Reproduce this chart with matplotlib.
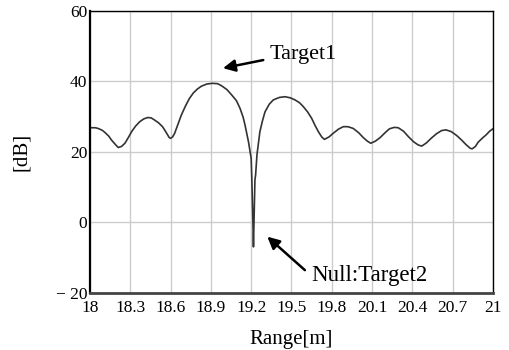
import numpy as np
import matplotlib.pyplot as plt

# values
range_m = [18.0, 18.01, 18.04, 18.06, 18.09, 18.11, 18.14, 18.16, 18.19, 18.21,
           18.235, 18.26, 18.285, 18.31, 18.34, 18.37, 18.40, 18.43, 18.455,
           18.48, 18.51, 18.54, 18.565, 18.59, 18.60, 18.615, 18.63, 18.655,
           18.68, 18.71, 18.74, 18.77, 18.80, 18.83, 18.87, 18.91, 18.95, 18.98,
           19.02, 19.055, 19.09, 19.117, 19.14, 19.154, 19.18, 19.2,
           19.205, 19.213, 19.217, 19.221, 19.228, 19.233, 19.243, 19.265,
           19.285, 19.303, 19.335, 19.365, 19.41, 19.452, 19.49, 19.526, 19.56,
           19.588, 19.62, 19.65, 19.675, 19.70, 19.725, 19.745, 19.78, 19.81,
           19.85, 19.886, 19.92, 19.96, 20.0, 20.035, 20.065, 20.09, 20.125,
           20.16, 20.2, 20.23, 20.265, 20.295, 20.335, 20.37, 20.41, 20.444,
           20.47, 20.505, 20.54, 20.58, 20.618, 20.65, 20.69, 20.73, 20.767,
           20.80, 20.83, 20.845, 20.87, 20.89, 20.92, 20.95, 20.975, 21.0]
level_db = [26.8, 26.8, 26.8, 26.6, 26.1, 25.5, 24.4, 23.3, 22.0, 21.2,
            21.5, 22.4, 24.0, 25.7, 27.3, 28.5, 29.3, 29.7, 29.6,
            29.0, 28.2, 27.1, 25.6, 24.0, 23.8, 24.2, 25.2, 27.8,
            30.4, 32.9, 35.1, 36.7, 37.8, 38.6, 39.2, 39.4, 39.3, 38.7,
            37.6, 36.1, 34.5, 32.3, 29.8, 27.6, 22.8, 18.1,
            12.0, 0.0, -7.0, 0.0, 12.0, 13.4, 19.1, 25.7,
            28.9, 31.3, 33.5, 34.7, 35.4, 35.6, 35.3, 34.7, 33.9,
            32.8, 31.3, 29.5, 27.5, 25.7, 24.2, 23.5, 24.2, 25.2,
            26.4, 27.1, 27.1, 26.6, 25.4, 24.0, 23.0, 22.4, 23.0,
            24.0, 25.5, 26.5, 26.9, 26.8, 25.8, 24.3, 22.8, 21.9,
            21.6, 22.5, 23.8, 25.1, 26.0, 26.2, 25.7, 24.6, 23.3,
            22.0, 21.0, 20.8, 21.5, 22.7, 23.8, 24.8, 25.8, 26.5]

x_ticks = [18, 18.3, 18.6, 18.9, 19.2, 19.5, 19.8, 20.1, 20.4, 20.7, 21]
x_tick_labels = ['18', '18.3', '18.6', '18.9', '19.2', '19.5', '19.8',
                 '20.1', '20.4', '20.7', '21']
y_ticks = [-20, 0, 20, 40, 60]
y_tick_labels = ['\u2212 20', '0', '20', '40', '60']

plt.rcParams['font.family'] = ['Liberation Serif', 'DejaVu Serif']

fig = plt.figure(figsize=(5.1, 3.5), dpi=100)
ax = fig.add_axes([0.1765, 0.1637, 0.79, 0.8057])

ax.plot(range_m, level_db, color='#333333', lw=1.2)

ax.set_xlim(18, 21)
ax.set_ylim(-20, 60)
ax.set_xticks(x_ticks)
ax.set_xticklabels(x_tick_labels)
ax.set_yticks(y_ticks)
ax.set_yticklabels(y_tick_labels)
ax.tick_params(length=0, labelsize=12.5)
ax.tick_params(axis='x', pad=5)
ax.tick_params(axis='y', pad=2)
ax.grid(True, color='#cccccc', lw=1)
ax.set_axisbelow(True)

ax.spines['left'].set_linewidth(1.6)
ax.spines['bottom'].set_linewidth(2.0)
ax.spines['bottom'].set_color('#444444')
ax.spines['top'].set_linewidth(1.0)
ax.spines['right'].set_linewidth(1.0)

ax.set_xlabel('Range[m]', fontsize=15, labelpad=10)
ax.set_ylabel('[dB]', fontsize=15, labelpad=18)

arrow = dict(arrowstyle='-|>', color='black', lw=1.8, mutation_scale=18,
             shrinkA=0, shrinkB=0)
ax.annotate('', xy=(18.99, 43.7), xytext=(19.29, 46.0), arrowprops=arrow)
ax.text(19.34, 47.5, 'Target1', fontsize=16, va='center', ha='left')
ax.annotate('', xy=(19.32, -4.1), xytext=(19.60, -13.6), arrowprops=arrow)
ax.text(19.645, -15.0, 'Null:Target2', fontsize=16.5, va='center', ha='left')

fig.savefig('out.png', dpi=100)
